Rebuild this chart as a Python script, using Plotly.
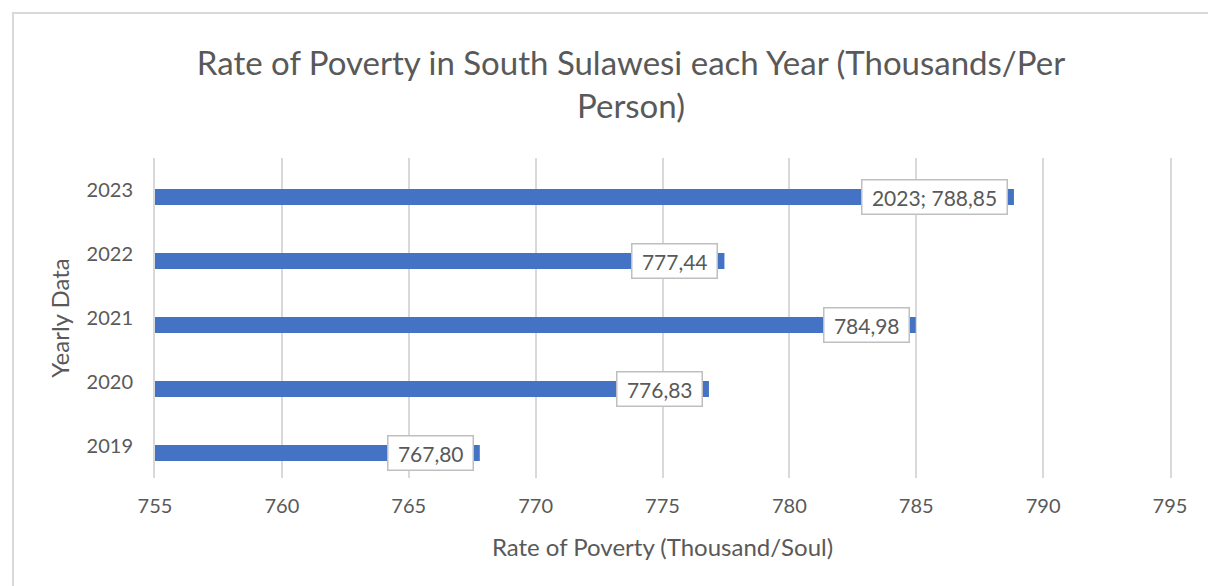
import plotly.graph_objects as go

years = ["2019", "2020", "2021", "2022", "2023"]
poverty = [767.80, 776.83, 784.98, 777.44, 788.85]
x_ticks = [755, 760, 765, 770, 775, 780, 785, 790, 795]

W, H = 1208, 586
L, R, T, B = 155, 38, 158, 108
TEXT = "#595959"
GRID = "#d9d9d9"
FONT = "Lato"
NB = "\u00a0"


def fmt(v):
    return f"{v:.2f}".replace(".", ",")


labels = [fmt(v) for v in poverty]
labels[-1] = f"{years[-1]}; {labels[-1]}"

fig = go.Figure(go.Bar(
    x=poverty, y=years, orientation="h",
    marker=dict(color="#4472C4", line=dict(width=0)),
    width=0.25, offset=-0.235,
    hoverinfo="x+y",
))

# data labels: boxed, sitting just inside the bar end
for i, (v, lab) in enumerate(zip(poverty, labels)):
    fig.add_annotation(
        x=v, y=i, text=NB + lab + NB, showarrow=False,
        xanchor="right", yanchor="middle", xshift=-6, yshift=-7,
        font=dict(family=FONT, size=21, color=TEXT),
        bgcolor="white", bordercolor="#bfbfbf", borderwidth=1.5, borderpad=4,
    )

# light outer chart frame (like the Excel chart area border)
pw, ph = W - L - R, H - T - B
fig.add_shape(
    type="rect", xref="paper", yref="paper",
    x0=(13 - L) / pw, x1=(W + 10 - L) / pw,
    y0=-(B + 10) / ph, y1=((H - B) - 13) / ph,
    line=dict(color=GRID, width=2), fillcolor="rgba(0,0,0,0)", layer="below",
)

fig.update_layout(
    width=W, height=H,
    margin=dict(l=L, r=R, t=T, b=B, autoexpand=False),
    paper_bgcolor="white", plot_bgcolor="white",
    showlegend=False,
    font=dict(family=FONT, color=TEXT),
    title=dict(
        text="Rate of Poverty in South Sulawesi each Year (Thousands/Per<br>Person)",
        x=631 / W, xanchor="center", xref="container",
        y=1 - 75 / H, yanchor="top", yref="container",
        font=dict(family=FONT, size=33, color=TEXT),
    ),
    xaxis=dict(
        range=[755, 795], tickvals=x_ticks, automargin=False,
        showgrid=True, gridcolor=GRID, gridwidth=2,
        zeroline=False, showline=False,
        ticks="outside", ticklen=10, tickcolor="rgba(0,0,0,0)",
        tickfont=dict(family=FONT, size=20, color=TEXT),
        title=dict(text="Rate of Poverty (Thousand/Soul)", standoff=23,
                   font=dict(family=FONT, size=24, color=TEXT)),
    ),
    yaxis=dict(
        type="category", categoryorder="array", categoryarray=years,
        range=[-0.5, 4.5], automargin=False,
        showgrid=False, zeroline=False,
        showline=True, mirror=True, linecolor=GRID, linewidth=2,
        ticks="outside", ticklen=16, tickcolor="rgba(0,0,0,0)",
        tickfont=dict(family=FONT, size=20, color=TEXT),
        title=dict(text="Yearly Data", standoff=10,
                   font=dict(family=FONT, size=24, color=TEXT)),
    ),
)

fig.write_html("out.html", config={"displayModeBar": False},
               post_script="document.body.style.margin='0';")
